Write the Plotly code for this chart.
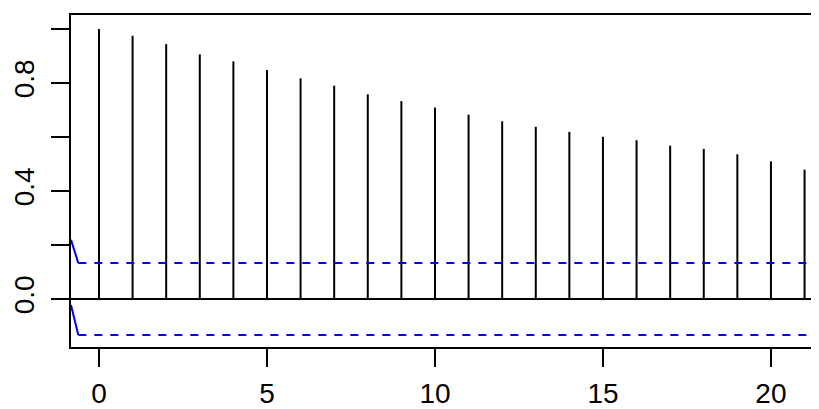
import plotly.graph_objects as go

lags = list(range(22))
acf_values = [1.0, 0.975, 0.944, 0.906, 0.880, 0.848, 0.817, 0.790, 0.758, 0.733,
              0.709, 0.683, 0.658, 0.638, 0.619, 0.601, 0.588, 0.568, 0.556, 0.536,
              0.510, 0.479]
ci_upper = 0.133
ci_lower = -0.133
ci_start_x = [-0.833, -0.616]
ci_upper_start = [0.219, 0.133]
ci_lower_start = [-0.022, -0.133]
x_ticks = [0, 5, 10, 15, 20]
y_ticks = [0.0, 0.2, 0.4, 0.6, 0.8, 1.0]
y_ticktext = ["0.0", "", "0.4", "", "0.8", ""]

x_range = [-0.833, 21.43]
y_range = [-0.1778, 1.0519]

seg_x, seg_y = [], []
for lag, v in zip(lags, acf_values):
    seg_x += [lag, lag, None]
    seg_y += [0, v, None]

fig = go.Figure()
fig.add_trace(go.Scatter(x=seg_x, y=seg_y, mode="lines",
                         line=dict(color="black", width=2), hoverinfo="skip"))
fig.add_trace(go.Scatter(x=[x_range[0], x_range[1]], y=[0, 0], mode="lines",
                         line=dict(color="black", width=2), hoverinfo="skip"))
for start_y, level in [(ci_upper_start, ci_upper), (ci_lower_start, ci_lower)]:
    fig.add_trace(go.Scatter(x=ci_start_x, y=start_y, mode="lines",
                             line=dict(color="blue", width=2), hoverinfo="skip"))
    fig.add_trace(go.Scatter(x=[ci_start_x[1], x_range[1]], y=[level, level], mode="lines",
                             line=dict(color="blue", width=2, dash="8px,8px"),
                             hoverinfo="skip"))

# page body has an 8px default margin; figure is sized to fit the 819x409 window
fig.update_layout(
    width=811, height=401,
    margin=dict(l=63, r=0, t=7, b=62, autoexpand=False),
    paper_bgcolor="white", plot_bgcolor="white",
    showlegend=False,
    font=dict(family="Liberation Sans, Arial, sans-serif", size=28, color="black"),
)
fig.update_xaxes(range=x_range, showgrid=False, zeroline=False,
                 showline=True, mirror=True, linecolor="black", linewidth=2,
                 tickmode="array", tickvals=x_ticks, ticks="outside",
                 ticklen=18, tickwidth=2, tickcolor="black",
                 ticklabelstandoff=2)
fig.update_yaxes(range=y_range, showgrid=False, zeroline=False,
                 showline=True, mirror=False, linecolor="black", linewidth=2,
                 tickmode="array", tickvals=y_ticks, ticktext=y_ticktext,
                 tickangle=-90, ticks="outside",
                 ticklen=18, tickwidth=2, tickcolor="black",
                 ticklabelstandoff=6)

fig.write_html("out.html")
